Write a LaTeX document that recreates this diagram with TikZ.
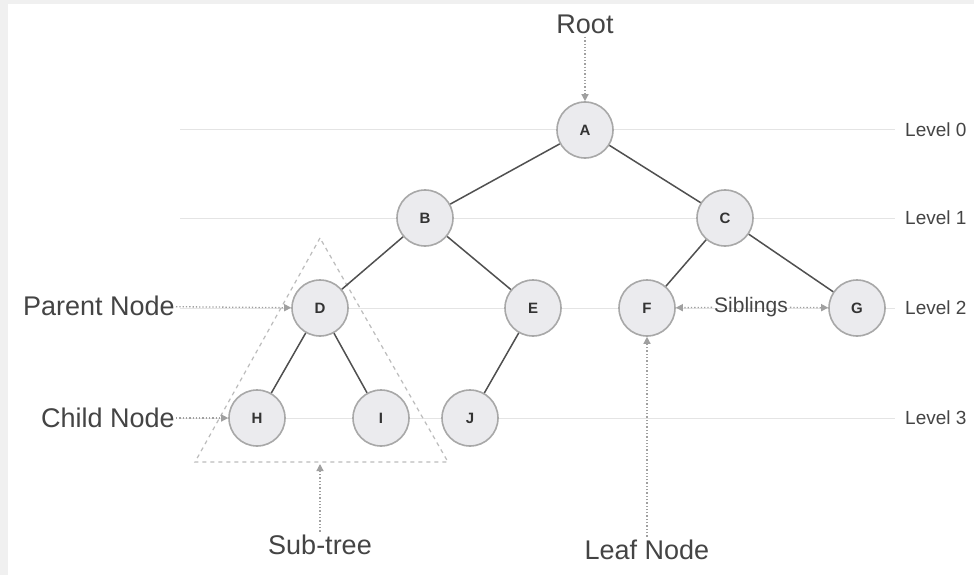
\documentclass[tikz,border=0pt]{standalone}
\usepackage{fontspec}
\setmainfont{Liberation Sans}
\usetikzlibrary{arrows.meta}
\definecolor{nodefill}{HTML}{EBEBEE}
\definecolor{nodeline}{HTML}{A8A8A8}
\definecolor{edgecol}{HTML}{505050}
\definecolor{levelline}{HTML}{E4E4E4}
\definecolor{labcol}{HTML}{444444}
\definecolor{ptr}{HTML}{A0A0A0}
\tikzset{
  treenode/.style={circle, draw=nodeline, line width=1.6pt, fill=nodefill, minimum size=56pt, inner sep=0pt, font=\fontsize{15}{15}\selectfont\bfseries, text=black!80},
  edge/.style={draw=edgecol, line width=1.5pt},
  levline/.style={draw=levelline, line width=1pt},
  levlab/.style={anchor=west, font=\fontsize{19}{19}\selectfont, text=labcol, inner sep=0pt},
  biglab/.style={font=\fontsize{27}{27}\selectfont, text=labcol},
  pointer/.style={draw=ptr, line width=1.3pt, dotted, -{Triangle[width=7pt,length=7pt,fill=ptr]}},
}
\begin{document}
\begin{tikzpicture}[x=1pt,y=-1pt]
\useasboundingbox (0,0) rectangle (974,575);
\fill[gray!12] (0,0) rectangle (974,575);
\fill[white] (8,4) rectangle (974,575);
% level lines
\foreach \yy/\n in {130/0,218/1,308/2,418/3}{
  \coordinate (ls\n) at (180,\yy);
  \coordinate (le\n) at (895,\yy);
  \draw[levline] (ls\n) -- (le\n);
  \node[levlab] (lev\n) at (905,\yy) {Level \n};
}
% subtree triangle
\coordinate (t1) at (320,238);
\coordinate (t2) at (195,462);
\coordinate (t3) at (448,462);
\draw[ptr!70, line width=1.2pt, dash pattern=on 4pt off 4pt] (t1) -- (t2) -- (t3) -- cycle;
% nodes
\node[treenode] (A) at (585,130) {A};
\node[treenode] (B) at (425,218) {B};
\node[treenode] (C) at (725,218) {C};
\node[treenode] (D) at (320,308) {D};
\node[treenode] (E) at (533,308) {E};
\node[treenode] (F) at (647,308) {F};
\node[treenode] (G) at (857,308) {G};
\node[treenode] (H) at (257,418) {H};
\node[treenode] (I) at (381,418) {I};
\node[treenode] (J) at (470,418) {J};
% edges
\draw[edge] (A) -- (B);
\draw[edge] (A) -- (C);
\draw[edge] (B) -- (D);
\draw[edge] (B) -- (E);
\draw[edge] (C) -- (F);
\draw[edge] (C) -- (G);
\draw[edge] (D) -- (H);
\draw[edge] (D) -- (I);
\draw[edge] (E) -- (J);
% labels
\node[biglab] (root) at (585,24) {Root};
\draw[pointer] (root) -- (A);
\node[biglab, anchor=east, inner sep=1pt] (parent) at (176,306) {Parent Node};
\draw[pointer] (parent) -- (D);
\node[biglab, anchor=east, inner sep=1pt] (child) at (176,418) {Child Node};
\draw[pointer] (child) -- (H);
\node[font=\fontsize{21}{21}\selectfont, text=labcol, inner sep=2pt] (sib) at (751,307) {Siblings};
\draw[pointer] (sib) -- (F);
\draw[pointer] (sib) -- (G);
\node[biglab] (sub) at (320,545) {Sub-tree};
\coordinate (subtip) at (320,464);
\draw[pointer] (sub) -- (subtip);
\node[biglab] (leaf) at (647,550) {Leaf Node};
\draw[pointer] (leaf) -- (F);
\end{tikzpicture}
\end{document}
